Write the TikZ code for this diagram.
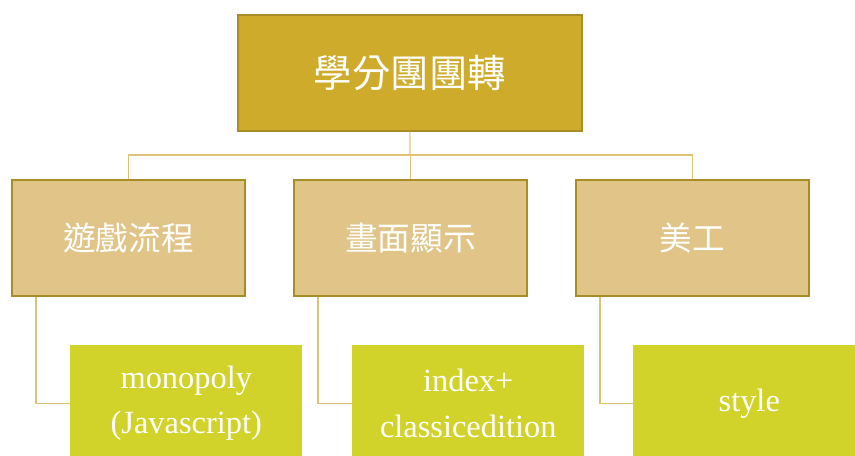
\documentclass[tikz,border=0pt]{standalone}
\usepackage{fontspec}
\setmainfont{Liberation Serif}
\newfontfamily\cjk{Noto Sans CJK TC}[Scale=1]
\definecolor{topfill}{HTML}{CFAB2B}
\definecolor{topdraw}{HTML}{A88C26}
\definecolor{midfill}{HTML}{E1C487}
\definecolor{greenfill}{HTML}{D1D32B}
\definecolor{linecol}{HTML}{DFC375}
\begin{document}
\begin{tikzpicture}[x=0.75pt,y=-0.75pt,
  topbox/.style={draw=topdraw,line width=1.3pt,fill=topfill,minimum width=344*0.75pt,minimum height=116*0.75pt,inner sep=0pt,text=white,font=\cjk\fontsize{28.8}{34}\selectfont,anchor=north west},
  midbox/.style={draw=topdraw,line width=1.3pt,fill=midfill,minimum width=233*0.75pt,minimum height=116*0.75pt,inner sep=0pt,text=white,font=\cjk\fontsize{24.5}{29}\selectfont,anchor=north west},
  leafbox/.style={fill=greenfill,minimum width=232*0.75pt,minimum height=116*0.75pt,inner sep=0pt,text=white,font=\fontsize{24.3}{34}\selectfont,align=center,anchor=north west},
  conn/.style={draw=linecol,line width=0.9pt}]
\useasboundingbox (0,0) rectangle (855,455);
\begin{scope}
\clip (0,0) rectangle (855,455);
\node[topbox] (top) at (237,14) {學分團團轉};
\node[midbox] (m1) at (11,179) {遊戲流程};
\node[midbox] (m2) at (293,179) {畫面顯示};
\node[midbox] (m3) at (575,179) {美工};
\node[leafbox] (l1) at (70,345) {monopoly\\(Javascript)};
\node[leafbox] (l2) at (352,345) {index+\\classicedition};
\node[leafbox] (l3) at (633,345) {style};
\coordinate (h) at (410,155);
\draw[conn] (top.south) -- (h);
\draw[conn] (h) -| (m1.north);
\draw[conn] (h) -| (m2.north);
\draw[conn] (h) -| (m3.north);
\draw[conn] ([xshift=25*0.75pt]m1.south west) |- (l1.west);
\draw[conn] ([xshift=25*0.75pt]m2.south west) |- (l2.west);
\draw[conn] ([xshift=25*0.75pt]m3.south west) |- (l3.west);
\end{scope}
\end{tikzpicture}
\end{document}
